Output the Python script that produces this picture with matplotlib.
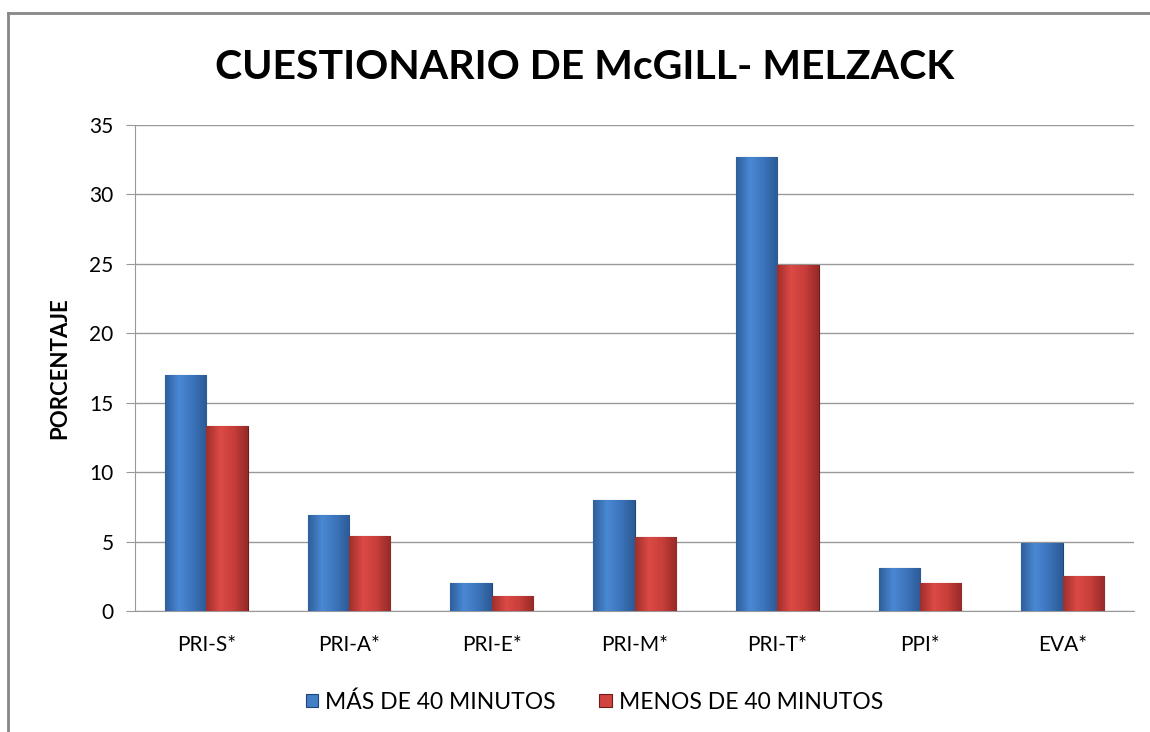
import numpy as np
import matplotlib.pyplot as plt
from matplotlib.lines import Line2D
from matplotlib.colors import LinearSegmentedColormap

categories = ['PRI-S*', 'PRI-A*', 'PRI-E*', 'PRI-M*', 'PRI-T*', 'PPI*', 'EVA*']
mas_40 = [17.0, 6.9, 2.0, 8.0, 32.7, 3.1, 4.9]
menos_40 = [13.3, 5.4, 1.1, 5.3, 24.9, 2.0, 2.5]
series_names = ['MÁS DE 40 MINUTOS', 'MENOS DE 40 MINUTOS']

plt.rcParams['font.family'] = ['Lato', 'DejaVu Sans']

fig = plt.figure(figsize=(11.5, 7.32), dpi=100)
ax = fig.add_axes([135 / 1150, 1 - 611 / 732, 999 / 1150, 486 / 732])

x = np.arange(len(categories))
w = 0.29

blue_cmap = LinearSegmentedColormap.from_list('b', ['#2f5f9c', '#4a88d4', '#3c74bb', '#2c5a95'])
red_cmap = LinearSegmentedColormap.from_list('r', ['#a02f2c', '#dc4a45', '#c73e3a', '#952a28'])

def gradient_bars(xs, vals, cmap, edge, label):
    bars = ax.bar(xs, vals, w, color=cmap(0.5), edgecolor=edge, linewidth=0.8, label=label, zorder=3)
    grad = np.linspace(0, 1, 64).reshape(1, -1)
    for b in bars:
        x0, y0 = b.get_x(), b.get_y()
        im = ax.imshow(grad, cmap=cmap, aspect='auto', zorder=3.5,
                       extent=[x0, x0 + b.get_width(), y0, y0 + b.get_height()])
        im.set_clip_path(b)
    return bars

gradient_bars(x - w / 2, mas_40, blue_cmap, '#1f4577', series_names[0])
gradient_bars(x + w / 2, menos_40, red_cmap, '#6e1d1b', series_names[1])

ax.set_xlim(-0.5, len(categories) - 0.5)
ax.set_ylim(0, 35)
ax.set_yticks(range(0, 36, 5))
ax.set_xticks(x)
ax.set_xticklabels(categories, fontsize=15)
ax.tick_params(axis='y', labelsize=15, length=6.5, color='#999999', pad=9)
ax.tick_params(axis='x', length=0, pad=17)
ax.grid(axis='y', color='#999999', linewidth=1, zorder=0)
for s in ['top', 'right']:
    ax.spines[s].set_visible(False)
ax.spines['left'].set_color('#999999')
ax.spines['bottom'].set_color('#999999')
ax.set_ylabel('PORCENTAJE', fontsize=16, fontweight='bold', labelpad=14)

fig.text(0.508, 0.908, 'CUESTIONARIO DE McGILL- MELZACK', ha='center', va='center',
         fontsize=29.5, fontweight='bold')

ax.legend(loc='center', bbox_to_anchor=(0.46, -0.187), ncol=2, frameon=False,
          fontsize=16.5, handlelength=0.55, handleheight=0.55, columnspacing=1.9, handletextpad=0.3)

# outer chart frame (only left and top edges are visible)
fig.add_artist(Line2D([8 / 1150, 8 / 1150], [0, 1 - 13 / 732], transform=fig.transFigure,
                      color='#888888', linewidth=2))
fig.add_artist(Line2D([8 / 1150, 0.999], [1 - 13 / 732, 1 - 13 / 732], transform=fig.transFigure,
                      color='#888888', linewidth=2))

fig.savefig('out.png', dpi=100)
